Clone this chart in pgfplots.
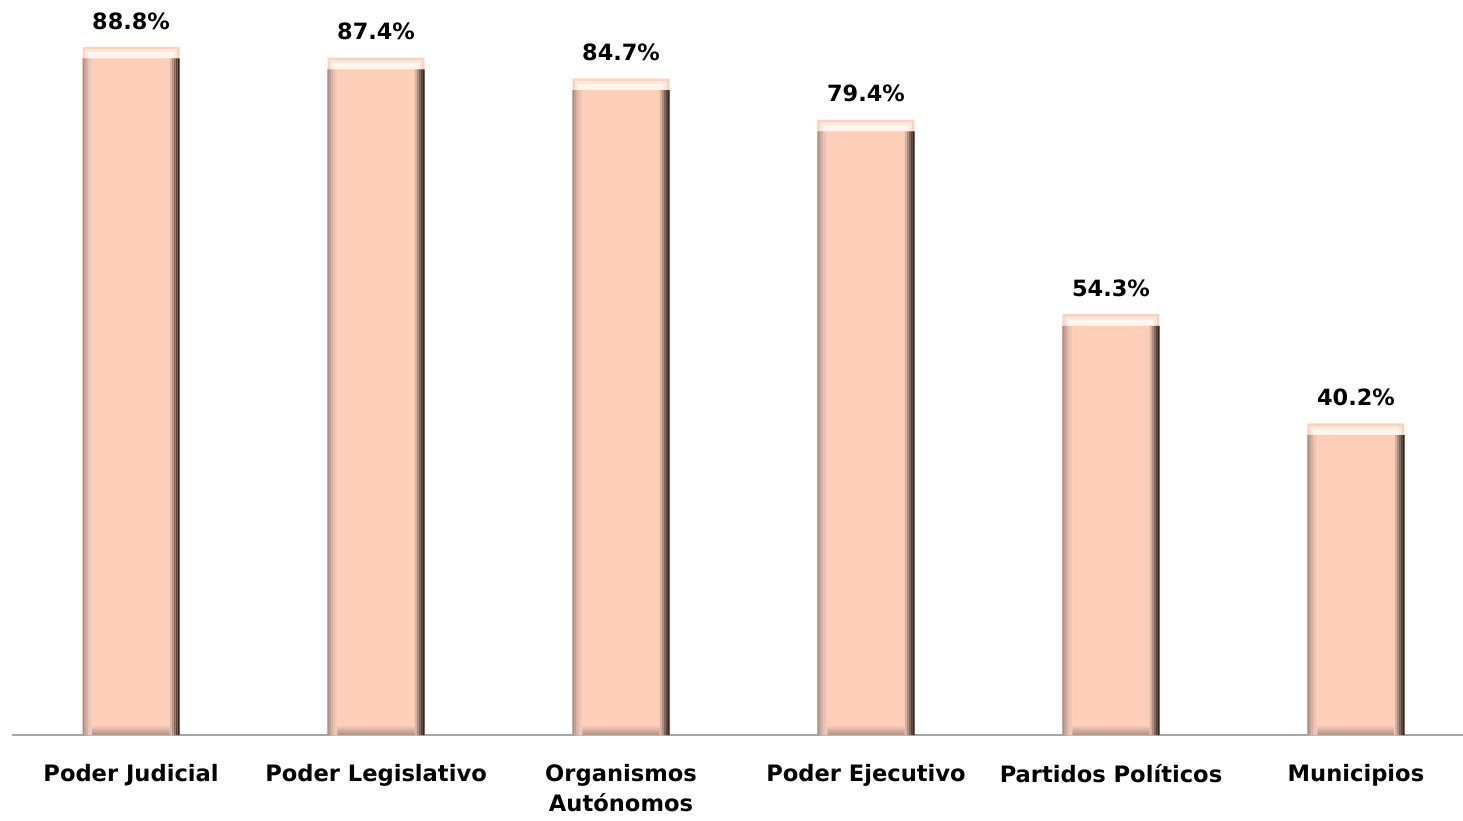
\documentclass[border=0pt]{standalone}
\usepackage{pgfplots}
\pgfplotsset{compat=1.18}
\usepackage{fontspec}
\setmainfont{DejaVu Sans}
\definecolor{peach}{HTML}{FDCFB8}
\definecolor{peachtop}{HTML}{F9D2C0}
\definecolor{peachmid}{HTML}{FFE6D9}
\definecolor{peachhi}{HTML}{FFF6F0}
\definecolor{axisgray}{HTML}{A6A6A6}
\definecolor{lA}{HTML}{B08C80}
\definecolor{lB}{HTML}{C4A092}
\definecolor{lC}{HTML}{D6B1A2}
\definecolor{lD}{HTML}{E6BFAD}
\definecolor{lE}{HTML}{F3C8B3}
\definecolor{rA}{HTML}{32241F}
\definecolor{rB}{HTML}{56423A}
\definecolor{rC}{HTML}{806558}
\definecolor{rD}{HTML}{AD8D7D}
\definecolor{rE}{HTML}{D9B19D}
\pgfplotstableread{
x full mid hi side base
0 88.8 88.5 88.1 87.3 1.3
1 87.4 87.1 86.7 85.9 1.3
2 84.7 84.4 84.0 83.2 1.3
3 79.4 79.1 78.7 77.9 1.3
4 54.3 54.0 53.6 52.8 1.3
5 40.2 39.9 39.5 38.7 1.3
}\bars
\begin{document}
\begin{tikzpicture}
\useasboundingbox (0,0) rectangle (731.5pt,410pt);
\begin{axis}[
  at={(6pt,42.5pt)}, anchor=south west,
  width=725.5pt, height=367.5pt, scale only axis,
  ybar, bar width=48.5pt,
  xmin=-0.486, xmax=5.437, ymin=0, ymax=94.84,
  axis y line=none,
  axis x line=bottom,
  x axis line style={-, draw=axisgray, line width=1pt},
  xtick=data, major tick length=0pt,
  xticklabels={Poder Judicial, Poder Legislativo, {Organismos\\Autónomos}, Poder Ejecutivo, Partidos Políticos, Municipios},
  xticklabel style={font=\fontsize{11.3}{15}\selectfont\bfseries, align=center, inner sep=0pt, anchor=north, yshift=-14.5pt},
  clip=false,
]
% top band (full bar) with data labels
\addplot[bar shift=0pt, fill=peachtop, draw=none,
  point meta=explicit symbolic,
  nodes near coords,
  nodes near coords style={font=\fontsize{11.2}{13}\selectfont\bfseries, anchor=south, inner sep=0pt, yshift=8.5pt, text=black}]
  coordinates {(0,88.8)[88.8\%] (1,87.4)[87.4\%] (2,84.7)[84.7\%] (3,79.4)[79.4\%] (4,54.3)[54.3\%] (5,40.2)[40.2\%]};
\addplot[bar shift=0pt, bar width=46pt, fill=peachmid, draw=none] table[x=x,y=mid] {\bars};
\addplot[bar shift=0pt, bar width=43pt, fill=peachhi, draw=none] table[x=x,y=hi] {\bars};
% left side strips
\addplot[bar shift=-23.75pt, bar width=1.05pt, fill=lA, draw=none] table[x=x,y=side] {\bars};
\addplot[bar shift=-22.75pt, bar width=1.05pt, fill=lB, draw=none] table[x=x,y=side] {\bars};
\addplot[bar shift=-21.75pt, bar width=1.05pt, fill=lC, draw=none] table[x=x,y=side] {\bars};
\addplot[bar shift=-20.75pt, bar width=1.05pt, fill=lD, draw=none] table[x=x,y=side] {\bars};
\addplot[bar shift=-19.75pt, bar width=1.05pt, fill=lE, draw=none] table[x=x,y=side] {\bars};
% right side strips
\addplot[bar shift=23.75pt, bar width=1.05pt, fill=rA, draw=none] table[x=x,y=side] {\bars};
\addplot[bar shift=22.75pt, bar width=1.05pt, fill=rB, draw=none] table[x=x,y=side] {\bars};
\addplot[bar shift=21.75pt, bar width=1.05pt, fill=rC, draw=none] table[x=x,y=side] {\bars};
\addplot[bar shift=20.75pt, bar width=1.05pt, fill=rD, draw=none] table[x=x,y=side] {\bars};
\addplot[bar shift=19.75pt, bar width=1.05pt, fill=rE, draw=none] table[x=x,y=side] {\bars};
% flat face
\addplot[bar shift=0pt, bar width=38.6pt, fill=peach, draw=none] table[x=x,y=side] {\bars};
% bottom bevel
\addplot[bar shift=0pt, bar width=38.6pt, draw=none, top color=peach, bottom color=lA] table[x=x,y=base] {\bars};
\end{axis}
\end{tikzpicture}
\end{document}
